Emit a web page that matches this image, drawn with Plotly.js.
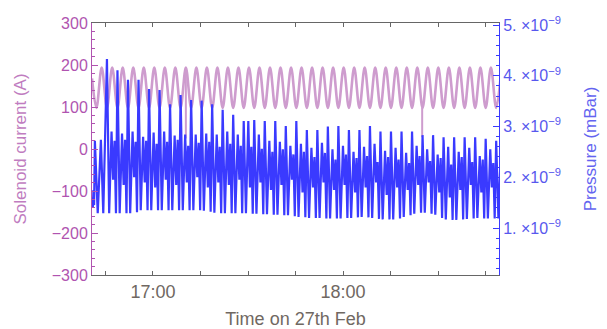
<!DOCTYPE html>
<html>
<head>
<meta charset="utf-8">
<script src="https://cdn.plot.ly/plotly-3.0.1.min.js"></script>
<style>html,body{margin:0;padding:0;background:#fff;}#chart{width:607px;height:329px;}</style>
</head>
<body>
<div id="chart"></div>
<script>
// Time axis: minutes after 16:00 on 27th Feb
const xTickVals = [45, 60, 75, 90, 105, 120, 135, 150, 165];
const xTickText = ['', '17:00', '', '', '', '18:00', '', '', ''];

// Solenoid current (A): peaks / troughs
const solenoidTime = [40.74, 42.14, 43.80, 45.46, 47.12, 48.78, 50.44, 52.10, 53.77, 55.43,
  57.09, 58.75, 60.41, 62.07, 63.73, 65.39, 67.05, 68.71, 70.38, 72.04,
  73.70, 75.36, 77.02, 78.68, 80.34, 82.00, 83.66, 85.32, 86.99, 88.65,
  90.31, 91.97, 93.63, 95.29, 96.95, 98.61, 100.27, 101.93, 103.60, 105.26,
  106.92, 108.58, 110.24, 111.90, 113.56, 115.22, 116.88, 118.54, 120.21, 121.87,
  123.53, 125.19, 126.85, 128.51, 130.17, 131.83, 133.49, 135.15, 136.82, 138.48,
  140.14, 141.80, 143.46, 145.12, 146.78, 148.44, 150.10, 151.76, 153.43, 155.09,
  156.75, 158.41, 160.07, 161.73, 163.39, 165.05, 166.71, 168.37, 170.04];
const solenoidCurrent = [168, 98, 194, 98, 194, 98, 194, 98, 194, 98,
  194, 98, 194, 98, 194, 98, 194, 98, 194, 98,
  194, 98, 194, 98, 194, 98, 194, 98, 194, 98,
  194, 98, 194, 98, 194, 98, 194, 98, 194, 98,
  194, 98, 194, 98, 194, 98, 194, 98, 194, 98,
  194, 98, 194, 98, 194, 98, 194, 98, 194, 98,
  194, 98, 194, 98, 194, 98, 194, 98, 194, 98,
  194, 98, 194, 98, 194, 98, 194, 98, 194];
// Short drops of the solenoid current
const dipTime = [70.38, 145.00];
const dipFrom = [194, 99];
const dipTo = [25, 28];

// Pressure (units of 1e-9 mBar)
const pressureTime = [
  40.74, 41.00, 41.20, 41.40, 41.65, 42.55, 43.55, 44.30,
  45.46, 46.16, 46.91, 47.41, 47.86, 48.31,
  48.78, 49.48, 50.23, 50.73, 51.18, 51.63,
  52.10, 52.80, 53.55, 54.05, 54.50, 54.95,
  55.43, 56.13, 56.88, 57.38, 57.83, 58.28,
  58.75, 59.45, 60.20, 60.70, 61.15, 61.60,
  62.07, 62.77, 63.52, 64.02, 64.47, 64.92,
  65.39, 66.09, 66.84, 67.34, 67.79, 68.24,
  68.71, 69.41, 70.16, 70.66, 71.11, 71.56,
  72.04, 72.74, 73.49, 73.99, 74.44, 74.89,
  75.36, 76.06, 76.81, 77.31, 77.76, 78.21,
  78.68, 79.38, 80.13, 80.63, 81.08, 81.53,
  82.00, 82.70, 83.45, 83.95, 84.40, 84.85,
  85.32, 86.02, 86.77, 87.27, 87.72, 88.17,
  88.65, 89.35, 90.10, 90.60, 91.05, 91.50,
  91.97, 92.67, 93.42, 93.92, 94.37, 94.82,
  95.29, 95.99, 96.74, 97.24, 97.69, 98.14,
  98.61, 99.31, 100.06, 100.56, 101.01, 101.46,
  101.93, 102.63, 103.38, 103.88, 104.33, 104.78,
  105.26, 105.96, 106.71, 107.21, 107.66, 108.11,
  108.58, 109.28, 110.03, 110.53, 110.98, 111.43,
  111.90, 112.60, 113.35, 113.85, 114.30, 114.75,
  115.22, 115.92, 116.67, 117.17, 117.62, 118.07,
  118.54, 119.24, 119.99, 120.49, 120.94, 121.39,
  121.87, 122.57, 123.32, 123.82, 124.27, 124.72,
  125.19, 125.89, 126.64, 127.14, 127.59, 128.04,
  128.51, 129.21, 129.96, 130.46, 130.91, 131.36,
  131.83, 132.53, 133.28, 133.78, 134.23, 134.68,
  135.15, 135.85, 136.60, 137.10, 137.55, 138.00,
  138.48, 139.18, 139.93, 140.43, 140.88, 141.33,
  141.80, 142.50, 143.25, 143.75, 144.20, 144.65,
  145.12, 145.82, 146.57, 147.07, 147.52, 147.97,
  148.44, 149.14, 149.89, 150.39, 150.84, 151.29,
  151.76, 152.46, 153.21, 153.71, 154.16, 154.61,
  155.09, 155.79, 156.54, 157.04, 157.49, 157.94,
  158.41, 159.11, 159.86, 160.36, 160.81, 161.26,
  161.73, 162.43, 163.18, 163.68, 164.13, 164.58,
  165.05, 165.75, 166.50, 167.00, 167.45, 167.90,
  168.37, 169.07, 169.82, 170.32, 170.77, 171.22];
const pressureNano = [
  1.60, 1.40, 1.75, 1.45, 2.72, 1.29, 2.74, 1.29,
  4.33, 1.29, 2.90, 1.95, 2.72, 1.29,
  4.11, 1.29, 2.86, 1.85, 2.74, 1.29,
  3.92, 1.29, 2.90, 2.00, 2.70, 1.31,
  3.92, 1.35, 2.80, 1.90, 2.72, 1.35,
  3.74, 1.35, 2.88, 1.80, 2.66, 1.35,
  3.72, 1.35, 2.90, 1.95, 2.70, 1.35,
  3.44, 1.35, 2.82, 1.85, 2.74, 1.35,
  3.62, 1.35, 2.84, 1.90, 2.62, 1.35,
  3.52, 1.35, 2.84, 2.00, 2.68, 1.35,
  3.51, 1.34, 2.86, 1.80, 2.70, 1.32,
  3.44, 1.30, 2.84, 1.90, 2.60, 1.29,
  3.33, 1.29, 2.90, 1.85, 2.66, 1.29,
  3.23, 1.29, 2.84, 1.95, 2.62, 1.29,
  3.11, 1.29, 3.11, 1.80, 2.60, 1.28,
  3.13, 1.28, 2.84, 1.90, 2.56, 1.27,
  3.11, 1.27, 2.72, 1.75, 2.50, 1.26,
  3.11, 1.26, 2.70, 1.85, 2.55, 1.25,
  3.01, 1.25, 2.62, 1.95, 2.45, 1.23,
  3.11, 1.22, 2.66, 1.70, 2.50, 1.21,
  2.93, 1.20, 2.58, 1.80, 2.40, 1.20,
  2.93, 1.20, 2.68, 1.90, 2.48, 1.19,
  3.00, 1.19, 2.55, 1.75, 2.35, 1.19,
  3.01, 1.19, 2.62, 1.85, 2.45, 1.20,
  2.93, 1.20, 2.50, 1.70, 2.38, 1.21,
  2.93, 1.22, 2.60, 1.80, 2.42, 1.21,
  3.01, 1.20, 2.66, 1.90, 2.30, 1.18,
  2.90, 1.17, 2.52, 1.65, 2.40, 1.17,
  2.90, 1.17, 2.58, 1.80, 2.35, 1.19,
  2.90, 1.22, 2.48, 1.75, 2.28, 1.25,
  2.90, 1.28, 2.62, 1.85, 2.42, 1.30,
  2.83, 1.30, 2.55, 1.90, 2.32, 1.28,
  2.83, 1.26, 2.45, 1.70, 2.38, 1.20,
  2.79, 1.17, 2.60, 1.60, 2.25, 1.16,
  2.79, 1.16, 2.50, 1.75, 2.40, 1.17,
  2.79, 1.18, 2.58, 1.85, 2.30, 1.19,
  2.79, 1.20, 2.42, 1.70, 2.35, 1.19,
  2.76, 1.19, 2.55, 1.80, 2.28, 1.19,
  2.72, 1.19, 2.50, 1.65, 2.40, 1.19];

const yTickVals = [-300, -200, -100, 0, 100, 200, 300];
const yTickText = ['\u2212300', '\u2212200', '\u2212100', '0', '100', '200', '300'];
const y2TickVals = [1e-9, 2e-9, 3e-9, 4e-9, 5e-9];
const y2TickText = ['1. \u00d710<sup>\u22129</sup>', '2. \u00d710<sup>\u22129</sup>', '3. \u00d710<sup>\u22129</sup>', '4. \u00d710<sup>\u22129</sup>', '5. \u00d710<sup>\u22129</sup>'];

const pink = 'rgb(206,156,206)';
const purple = 'rgb(176,84,176)';
const blue = 'rgb(58,58,255)';
const blueText = 'rgb(88,88,238)';
const grayText = 'rgb(112,104,98)';
const font = 'Liberation Sans, Arial, sans-serif';

const dipX = [], dipY = [];
dipTime.forEach((t, i) => { dipX.push(t, t, null); dipY.push(dipFrom[i], dipTo[i], null); });

const traces = [
  {x: solenoidTime, y: solenoidCurrent, type: 'scatter', mode: 'lines',
   line: {color: pink, width: 2.6, shape: 'spline', smoothing: 1}, hoverinfo: 'skip'},
  {x: dipX, y: dipY, type: 'scatter', mode: 'lines',
   line: {color: pink, width: 2}, hoverinfo: 'skip'},
  {x: pressureTime, y: pressureNano.map(v => v * 1e-9), type: 'scatter', mode: 'lines', yaxis: 'y2',
   line: {color: blue, width: 2.2, simplify: false}, hoverinfo: 'skip'}
];

const layout = {
  width: 607, height: 329,
  margin: {l: 92, r: 108, t: 23, b: 54},
  paper_bgcolor: '#fff', plot_bgcolor: '#fff',
  showlegend: false,
  xaxis: {
    range: [40.74, 169.26], tickmode: 'array', tickvals: xTickVals, ticktext: xTickText,
    ticks: 'inside', ticklen: 4, tickcolor: '#666', tickwidth: 1,
    showline: true, linecolor: '#666', linewidth: 1, mirror: 'ticks',
    showgrid: false, zeroline: false,
    tickfont: {family: font, size: 18, color: grayText},
    title: {text: 'Time on 27th Feb', font: {family: font, size: 18, color: grayText}, standoff: 12}
  },
  yaxis: {
    range: [-300, 300], tickmode: 'array', tickvals: yTickVals, ticktext: yTickText,
    ticks: 'inside', ticklen: 6, tickcolor: purple, tickwidth: 1,
    minor: {tickmode: 'linear', tick0: 0, dtick: 20, ticks: 'inside', ticklen: 3, tickcolor: purple},
    showline: true, linecolor: purple, linewidth: 1,
    showgrid: false, zeroline: false,
    tickfont: {family: font, size: 16, color: purple},
    title: {text: 'Solenoid current (A)', font: {family: font, size: 17, color: 'rgb(192,124,192)'}, standoff: 20}
  },
  yaxis2: {
    overlaying: 'y', side: 'right', anchor: 'x',
    range: [0.074e-9, 5.04e-9], tickmode: 'array', tickvals: y2TickVals, ticktext: y2TickText,
    ticks: 'inside', ticklen: 6, tickcolor: blue, tickwidth: 1,
    minor: {tickmode: 'linear', tick0: 0, dtick: 0.2e-9, ticks: 'inside', ticklen: 3, tickcolor: blue},
    showline: true, linecolor: blue, linewidth: 1,
    showgrid: false, zeroline: false,
    tickfont: {family: font, size: 16, color: blueText},
    title: {text: 'Pressure (mBar)', font: {family: font, size: 17, color: 'rgb(100,100,240)'}, standoff: 24}
  }
};

Plotly.newPlot('chart', traces, layout, {staticPlot: true, displayModeBar: false});
</script>
</body>
</html>
